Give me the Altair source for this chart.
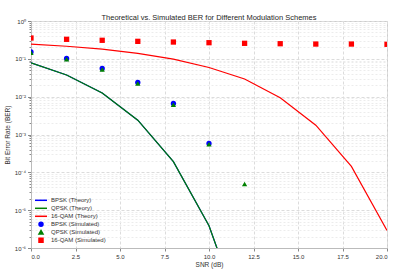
import altair as alt
import pandas as pd

# ---- data ----
snr_theory = [0, 2, 4, 6, 8, 10, 12, 14, 16, 18, 20]
bpsk_theory = [0.0786, 0.0375, 0.0125, 0.00239, 1.91e-4, 3.87e-6, 9.0e-9, 6.8e-13, 9.0e-19, 1.0e-26, 2.1e-45]
qpsk_theory = [0.0786, 0.0375, 0.0125, 0.00239, 1.91e-4, 3.87e-6, 9.0e-9, 6.8e-13, 9.0e-19, 1.0e-26, 2.1e-45]
qam16_theory = [0.246, 0.215, 0.180, 0.139, 0.0979, 0.0590, 0.0294, 0.00937, 0.00176, 1.43e-4, 2.9e-6]

snr_bpsk_sim = [0, 2, 4, 6, 8, 10]
bpsk_sim = [0.152, 0.102, 0.0555, 0.0237, 0.0066, 5.8e-4]
snr_qpsk_sim = [0, 2, 4, 6, 8, 10, 12]
qpsk_sim = [0.146, 0.097, 0.052, 0.0222, 0.0061, 5.5e-4, 4.9e-5]
snr_qam16_sim = [0, 2, 4, 6, 8, 10, 12, 14, 16, 18, 20]
qam16_sim = [0.355, 0.328, 0.309, 0.290, 0.278, 0.267, 0.257, 0.251, 0.246, 0.246, 0.242]

series = ["BPSK (Theory)", "QPSK (Theory)", "16-QAM (Theory)",
          "BPSK (Simulated)", "QPSK (Simulated)", "16-QAM (Simulated)"]
colors = ["#0000ff", "#008000", "#ff0000", "#0000ff", "#008000", "#ff0000"]
# legend glyph for the theory lines: a short stroke (with invisible moves so every row has equal height)
line_sym = "M0,-1M-3,0H3M0,1"
shapes = [line_sym, line_sym, line_sym, "circle", "triangle-up", "square"]

x_ticks = [0, 2.5, 5, 7.5, 10, 12.5, 15, 17.5, 20]
y_ticks = [m * 10.0 ** e for e in range(-6, 0) for m in range(1, 10)] + [1.0]

theory = pd.concat([
    pd.DataFrame({"snr": snr_theory, "ber": bpsk_theory, "series": series[0]}),
    pd.DataFrame({"snr": snr_theory, "ber": qpsk_theory, "series": series[1]}),
    pd.DataFrame({"snr": snr_theory, "ber": qam16_theory, "series": series[2]}),
])
sim = pd.concat([
    pd.DataFrame({"snr": snr_bpsk_sim, "ber": bpsk_sim, "series": series[3]}),
    pd.DataFrame({"snr": snr_qpsk_sim, "ber": qpsk_sim, "series": series[4]}),
    pd.DataFrame({"snr": snr_qam16_sim, "ber": qam16_sim, "series": series[5]}),
])

FONT = "Liberation Sans"
is_major = "abs(log(datum.value)/LN10 - round(log(datum.value)/LN10)) < 0.001"
sup = "['10\u207b\u2076','10\u207b\u2075','10\u207b\u2074','10\u207b\u00b3','10\u207b\u00b2','10\u207b\u00b9','10\u2070']"

x_enc = alt.X("snr:Q", title="SNR (dB)",
              scale=alt.Scale(domain=[0, 20], nice=False, zero=False),
              axis=alt.Axis(values=x_ticks, format=".1f", gridDash=[3, 2], gridColor="#dcdcdc",
                            tickSize=3, titlePadding=2, labelPadding=2))
y_enc = alt.Y("ber:Q", title="Bit Error Rate (BER)",
              scale=alt.Scale(type="log", domain=[1e-6, 1], nice=False),
              axis=alt.Axis(values=y_ticks,
                            labelExpr=f"{is_major} ? {sup}[round(log(datum.value)/LN10)+6] : ''",
                            gridColor={"condition": {"test": is_major, "value": "#dcdcdc"}, "value": "#ececec"},
                            gridDash={"condition": {"test": is_major, "value": [3, 2]}, "value": [2, 2]},
                            tickSize={"condition": {"test": is_major, "value": 3.5}, "value": 2},
                            labelPadding=2, titlePadding=4, labelOverlap=False))

color_scale = alt.Scale(domain=series, range=colors)
legend = alt.Legend(orient="none", legendX=7, legendY=176.3, title=None, padding=0,
                    labelFont=FONT, labelFontSize=6, labelColor="#333333",
                    symbolSize=16, symbolStrokeWidth=1.5, rowPadding=-2.26, labelOffset=7,
                    symbolOpacity=1)

lines = alt.Chart(theory).mark_line(strokeWidth=1.2, opacity=1, clip=True).encode(
    x=x_enc, y=y_enc,
    color=alt.Color("series:N", scale=color_scale, legend=legend, sort=series),
    detail="series:N",
)
points = alt.Chart(sim).mark_point(filled=True, size=28, opacity=1, clip=True).encode(
    x=x_enc, y=y_enc,
    color=alt.Color("series:N", scale=color_scale, legend=legend, sort=series),
    shape=alt.Shape("series:N", scale=alt.Scale(domain=series, range=shapes), legend=legend, sort=series),
)

chart = alt.layer(lines, points).properties(
    width=356, height=227,
    autosize=alt.AutoSizeParams(type="none"),
    padding={"left": 31, "top": 21, "right": 13, "bottom": 32},
    title=alt.Title("Theoretical vs. Simulated BER for Different Modulation Schemes",
                    font=FONT, fontSize=7.5, fontWeight="normal", color="#262626", offset=-3),
).configure_view(stroke="#cccccc", strokeWidth=1).configure_axis(
    labelFont=FONT, titleFont=FONT, labelFontSize=6, titleFontSize=6.5,
    labelColor="#333333", titleColor="#333333", titleFontWeight="normal",
    domainColor="#bbbbbb", tickColor="#888888",
)

chart.save("out.html", embed_options={"renderer": "svg", "actions": False})
